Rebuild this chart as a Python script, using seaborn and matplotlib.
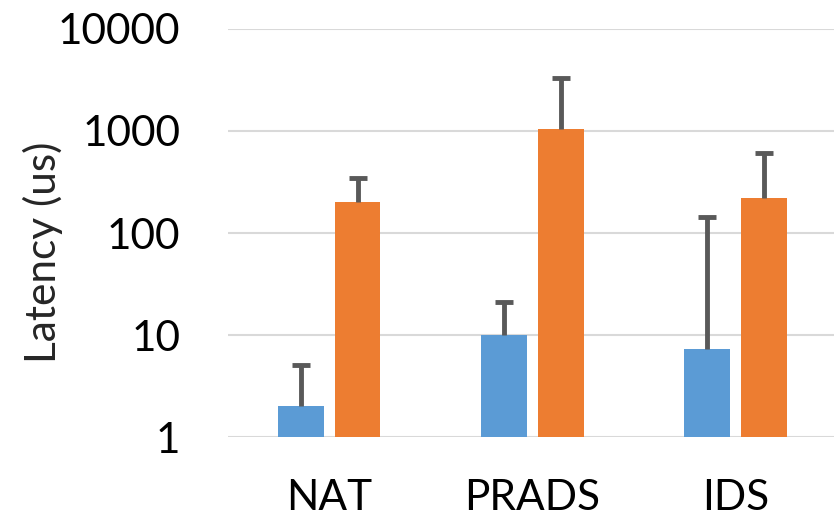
import matplotlib
matplotlib.use('Agg')
import matplotlib.pyplot as plt
import seaborn as sns
import numpy as np
import pandas as pd

# -- datos
apps = ['NAT', 'PRADS', 'IDS']
series = ['A', 'B']
lat_a = [2.0, 10.0, 7.3]
lat_b = [201, 1047, 220]
err_a = [3.1, 11, 136]
err_b = [145, 2260, 390]
yticks = [1, 10, 100, 1000, 10000]

df = pd.DataFrame({
    'app': apps * 2,
    'serie': [series[0]] * 3 + [series[1]] * 3,
    'lat': lat_a + lat_b,
    'err': err_a + err_b,
})

sns.set_style('white')
plt.rcParams['font.family'] = ['Lato', 'DejaVu Sans']

fig = plt.figure(figsize=(8.34, 5.26), dpi=100)
ax = fig.add_axes([0.273, 0.169, 0.727, 0.776])

colores = {'A': '#5B9BD5', 'B': '#ED7D31'}
sns.barplot(data=df, x='app', y='lat', hue='serie', palette=colores,
            width=0.56, gap=0.2, errorbar=None, legend=False, ax=ax,
            zorder=3, linewidth=0, saturation=1)
ax.set_yscale('log')

# barras de error solo hacia arriba
for cont, s in zip(ax.containers, series):
    sub = df[df.serie == s]
    xs = [p.get_x() + p.get_width() / 2 for p in cont.patches]
    ys = sub['lat'].values
    up = sub['err'].values
    eb = ax.errorbar(xs, ys, yerr=[np.zeros_like(up), up], fmt='none',
                     ecolor='#595959', elinewidth=3.5, capsize=6.2, capthick=3.5,
                     zorder=4)
    eb[1][0].set_visible(False)

ax.set_ylim(1, 10000)
ax.set_xlim(-0.5, 2.485)
ax.set_yticks(yticks)
ax.set_yticklabels([str(v) for v in yticks])
ax.minorticks_off()
ax.yaxis.grid(True, color='#D9D9D9', linewidth=1.5, zorder=0)
ax.set_axisbelow(True)
for sp in ax.spines.values():
    sp.set_visible(False)
ax.tick_params(axis='y', length=0, pad=34, labelsize=30.5, colors='black')
ax.tick_params(axis='x', length=0, pad=30, labelsize=30.5, colors='black')
ax.set_xlabel('')
ax.set_ylabel('Latency (us)', fontsize=30.5)
ax.yaxis.set_label_coords(-0.272, 0.453)

fig.savefig('out.png', dpi=100)
